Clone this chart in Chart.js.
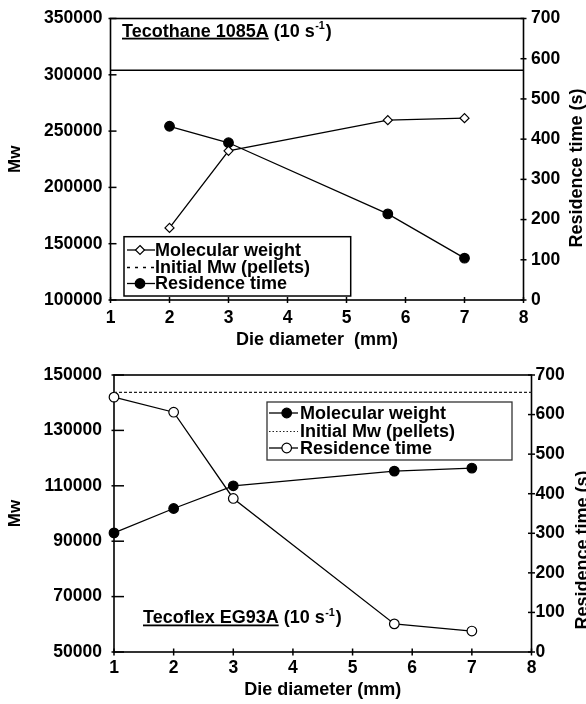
<!DOCTYPE html>
<html><head><meta charset="utf-8">
<script src="https://cdn.jsdelivr.net/npm/chart.js@4"></script>
<style>html,body{margin:0;padding:0;background:#fff;overflow:hidden;} canvas{display:block;}</style>
</head><body>
<canvas id="c1" width="586" height="352"></canvas>
<canvas id="c2" width="586" height="352"></canvas>
<script>
// ---------- data ----------
const xTicks = [1, 2, 3, 4, 5, 6, 7, 8];
const xRange = [1, 8];
const rtTicks = [0, 100, 200, 300, 400, 500, 600, 700];

const diameterTop = [2, 3, 5.7, 7];
const mwTop = [164000, 232500, 259700, 261500];
const rtTop = [432, 391, 214, 104];
const initialMwTop = 304000;
const mwTicksTop = [100000, 150000, 200000, 250000, 300000, 350000];
const legendTop = ['Molecular weight', 'Initial Mw (pellets)', 'Residence time'];

const diameterBottom = [1, 2, 3, 5.7, 7];
const mwBottom = [93000, 101800, 110000, 115300, 116400];
const rtBottom = [644, 606, 388, 71, 53];
const initialMwBottom = 143700;
const mwTicksBottom = [50000, 70000, 90000, 110000, 130000, 150000];
const legendBottom = ['Molecular weight', 'Initial Mw (pellets)', 'Residence time'];

// ---------- helpers ----------
const FONT = "'Liberation Sans', Arial, Helvetica, sans-serif";
Chart.defaults.font.family = FONT;
Chart.defaults.color = '#000';
function pts(xs, ys) { return xs.map((x, i) => ({ x: x, y: ys[i] })); }
function tickSetter(arr) { return s => { s.ticks = arr.map(v => ({ value: v })); }; }

function drawMarker(ctx, ds, x, y) {
  const r = ds.pointRadius;
  if (!r) return;
  ctx.save();
  ctx.setLineDash([]);
  ctx.beginPath();
  if (ds.pointStyle === 'rectRot') {
    ctx.moveTo(x, y - r); ctx.lineTo(x + r, y); ctx.lineTo(x, y + r); ctx.lineTo(x - r, y); ctx.closePath();
  } else {
    ctx.arc(x, y, r, 0, Math.PI * 2);
  }
  ctx.fillStyle = ds.pointBackgroundColor; ctx.fill();
  ctx.lineWidth = ds.pointBorderWidth; ctx.strokeStyle = ds.pointBorderColor; ctx.stroke();
  ctx.restore();
}

const decorPlugin = {
  id: 'decor',
  beforeDatasetsDraw(chart, args, o) {
    const ctx = chart.ctx, a = chart.chartArea;
    ctx.save();
    ctx.strokeStyle = '#000';
    ctx.lineWidth = o.frameWidth;
    ctx.strokeRect(a.left, a.top, a.right - a.left, a.bottom - a.top);
    ctx.lineWidth = 1.5;
    for (const t of o.tickMarks) {
      const s = chart.scales[t.id];
      s.ticks.forEach(tk => {
        const p = s.getPixelForValue(tk.value);
        ctx.beginPath();
        if (s.isHorizontal()) { ctx.moveTo(p, a.bottom - t.inLen); ctx.lineTo(p, a.bottom + t.outLen); }
        else if (s.position === 'left') { ctx.moveTo(a.left - t.outLen, p); ctx.lineTo(a.left + t.inLen, p); }
        else { ctx.moveTo(a.right - t.inLen, p); ctx.lineTo(a.right + t.outLen, p); }
        ctx.stroke();
      });
    }
    ctx.restore();
  },
  afterDraw(chart, args, o) {
    const ctx = chart.ctx;
    ctx.save();
    ctx.fillStyle = '#000';
    // in-plot title with underline and superscript
    const t = o.title;
    ctx.textAlign = 'left'; ctx.textBaseline = 'alphabetic';
    ctx.font = `bold ${t.size}px ${FONT}`;
    let x = t.x;
    ctx.fillText(t.main, x, t.y);
    const wMain = ctx.measureText(t.main).width;
    ctx.fillRect(x, t.y + 1.2, wMain, 1.8);
    x += wMain;
    ctx.fillText(t.pre, x, t.y); x += ctx.measureText(t.pre).width;
    ctx.font = `bold ${t.size * 0.6}px ${FONT}`;
    ctx.fillText(t.sup, x + 0.5, t.y - t.size * 0.42); x += ctx.measureText(t.sup).width + 1.5;
    ctx.font = `bold ${t.size}px ${FONT}`;
    ctx.fillText(t.post, x, t.y);

    // legend
    const L = o.legend;
    ctx.fillStyle = '#fff';
    ctx.fillRect(L.x0, L.y0, L.x1 - L.x0, L.y1 - L.y0);
    ctx.strokeStyle = L.borderColor; ctx.lineWidth = L.borderWidth;
    ctx.strokeRect(L.x0, L.y0, L.x1 - L.x0, L.y1 - L.y0);
    ctx.font = `bold ${L.size}px ${FONT}`;
    ctx.textBaseline = 'middle';
    L.rows.forEach((ry, i) => {
      const ds = chart.data.datasets[i];
      ctx.save();
      ctx.strokeStyle = ds.borderColor; ctx.lineWidth = ds.borderWidth;
      ctx.setLineDash(L.dashes[i] || []);
      ctx.beginPath(); ctx.moveTo(L.lineX0, ry); ctx.lineTo(L.lineX1, ry); ctx.stroke();
      ctx.restore();
      drawMarker(ctx, ds, L.markX, ry);
      ctx.fillStyle = '#000';
      ctx.fillText(ds.label, L.textX, ry + 1);
    });

    // right axis title (reads bottom to top)
    const R = o.rightTitle;
    ctx.save();
    ctx.translate(R.x, R.y);
    ctx.rotate(-Math.PI / 2);
    ctx.font = `bold ${R.size}px ${FONT}`;
    ctx.textAlign = 'center'; ctx.textBaseline = 'middle'; ctx.fillStyle = '#000';
    ctx.fillText(R.text, 0, 0);
    ctx.restore();
    ctx.restore();
  }
};

function lineDs(label, data, axis, extra) {
  return Object.assign({
    label: label, data: data, yAxisID: axis, borderColor: '#000', borderWidth: 1.3,
    pointRadius: 4.5, pointBorderColor: '#000', pointBorderWidth: 1.2,
    pointBackgroundColor: '#000', pointStyle: 'circle', tension: 0, clip: false, fill: false
  }, extra || {});
}

function scaleOpts(extra) {
  return Object.assign({
    grid: { display: false, drawTicks: false },
    border: { display: false }
  }, extra);
}

// ---------- top chart ----------
new Chart(document.getElementById('c1'), {
  type: 'line',
  data: {
    datasets: [
      lineDs(legendTop[0], pts(diameterTop, mwTop), 'yL', { pointStyle: 'rectRot', pointRadius: 4.5, pointBackgroundColor: '#fff' }),
      lineDs(legendTop[1], pts(xRange, [initialMwTop, initialMwTop]), 'yL', { pointRadius: 0, borderWidth: 1.6 }),
      lineDs(legendTop[2], pts(diameterTop, rtTop), 'yR', { pointRadius: 4.8 })
    ]
  },
  options: {
    responsive: false, animation: false, devicePixelRatio: 1, events: [],
    layout: { padding: { top: 14.5, left: 0, right: 0, bottom: 0 } },
    plugins: {
      legend: { display: false }, tooltip: { enabled: false },
      decor: {
        frameWidth: 1.6,
        tickMarks: [{ id: 'x', inLen: 3, outLen: 3 }, { id: 'yL', inLen: 6, outLen: 2 }, { id: 'yR', inLen: 3, outLen: 3 }],
        title: { x: 122, y: 36.5, size: 18, main: 'Tecothane 1085A', pre: ' (10 s', sup: '-1', post: ')' },
        legend: { x0: 124, y0: 236.7, x1: 350.7, y1: 296, borderColor: '#000', borderWidth: 1.5, size: 18,
                  rows: [250, 267.5, 283.5], lineX0: 127, lineX1: 155, markX: 140, textX: 155, dashes: [[], [3, 5], []] },
        rightTitle: { x: 577, y: 168, size: 18, text: 'Residence time (s)' }
      }
    },
    scales: {
      x: scaleOpts({ type: 'linear', min: 1, max: 8, afterBuildTicks: tickSetter(xTicks), afterFit: s => { s.height = 52; },
        ticks: { padding: 8, font: { size: 17.5, weight: 'bold' }, color: '#000', callback: v => String(v) },
        title: { display: true, text: 'Die diameter  (mm)', font: { size: 18, weight: 'bold' }, color: '#000', padding: { top: 0, bottom: 1 } } }),
      yL: scaleOpts({ type: 'linear', position: 'left', min: 100000, max: 350000, afterBuildTicks: tickSetter(mwTicksTop), afterFit: s => { s.width = 110.5; },
        ticks: { padding: 8, font: { size: 17.5, weight: 'bold' }, color: '#000', callback: v => String(v) },
        title: { display: true, text: 'Mw', font: { size: 17, weight: 'bold' }, color: '#000', padding: { top: 5, bottom: 0 } } }),
      yR: scaleOpts({ type: 'linear', position: 'right', min: 0, max: 700, afterBuildTicks: tickSetter(rtTicks), afterFit: s => { s.width = 62.5; },
        ticks: { padding: 7.5, font: { size: 17.5, weight: 'bold' }, color: '#000', callback: v => String(v) } })
    }
  },
  plugins: [decorPlugin]
});

// ---------- bottom chart ----------
new Chart(document.getElementById('c2'), {
  type: 'line',
  data: {
    datasets: [
      lineDs(legendBottom[0], pts(diameterBottom, mwBottom), 'yL', { pointRadius: 4.8 }),
      lineDs(legendBottom[1], pts(xRange, [initialMwBottom, initialMwBottom]), 'yL', { pointRadius: 0, borderWidth: 1.2, borderColor: '#222', borderDash: [3, 2] }),
      lineDs(legendBottom[2], pts(diameterBottom, rtBottom), 'yR', { pointRadius: 4.8, pointBackgroundColor: '#fff' })
    ]
  },
  options: {
    responsive: false, animation: false, devicePixelRatio: 1, events: [],
    layout: { padding: { top: 23, left: 0, right: 0, bottom: 0 } },
    plugins: {
      legend: { display: false }, tooltip: { enabled: false },
      decor: {
        frameWidth: 1.6,
        tickMarks: [{ id: 'x', inLen: 3.5, outLen: 3.5 }, { id: 'yL', inLen: 10, outLen: 2.5 }, { id: 'yR', inLen: 3.5, outLen: 3.5 }],
        title: { x: 143, y: 271.3, size: 18, main: 'Tecoflex EG93A', pre: ' (10 s', sup: '-1', post: ')' },
        legend: { x0: 267, y0: 50, x1: 512, y1: 108, borderColor: '#333', borderWidth: 1.3, size: 18,
                  rows: [61, 79.5, 96], lineX0: 269, lineX1: 298, markX: 286.7, textX: 300, dashes: [[], [1.5, 2], []] },
        rightTitle: { x: 583, y: 198, size: 18, text: 'Residence time (s)' }
      }
    },
    scales: {
      x: scaleOpts({ type: 'linear', min: 1, max: 8, afterBuildTicks: tickSetter(xTicks), afterFit: s => { s.height = 52; },
        ticks: { padding: 5.5, font: { size: 17.5, weight: 'bold' }, color: '#000', callback: v => String(v) },
        title: { display: true, text: 'Die diameter (mm)', font: { size: 18, weight: 'bold' }, color: '#000', padding: { top: 0, bottom: 3 } } }),
      yL: scaleOpts({ type: 'linear', position: 'left', min: 50000, max: 150000, afterBuildTicks: tickSetter(mwTicksBottom), afterFit: s => { s.width = 114; },
        ticks: { padding: 12, font: { size: 17.5, weight: 'bold' }, color: '#000', callback: v => String(v) },
        title: { display: true, text: 'Mw', font: { size: 17, weight: 'bold' }, color: '#000', padding: { top: 5, bottom: 0 } } }),
      yR: scaleOpts({ type: 'linear', position: 'right', min: 0, max: 700, afterBuildTicks: tickSetter(rtTicks), afterFit: s => { s.width = 54.5; },
        ticks: { padding: 4, font: { size: 17.5, weight: 'bold' }, color: '#000', callback: v => String(v) } })
    }
  },
  plugins: [decorPlugin]
});
</script>
</body></html>
